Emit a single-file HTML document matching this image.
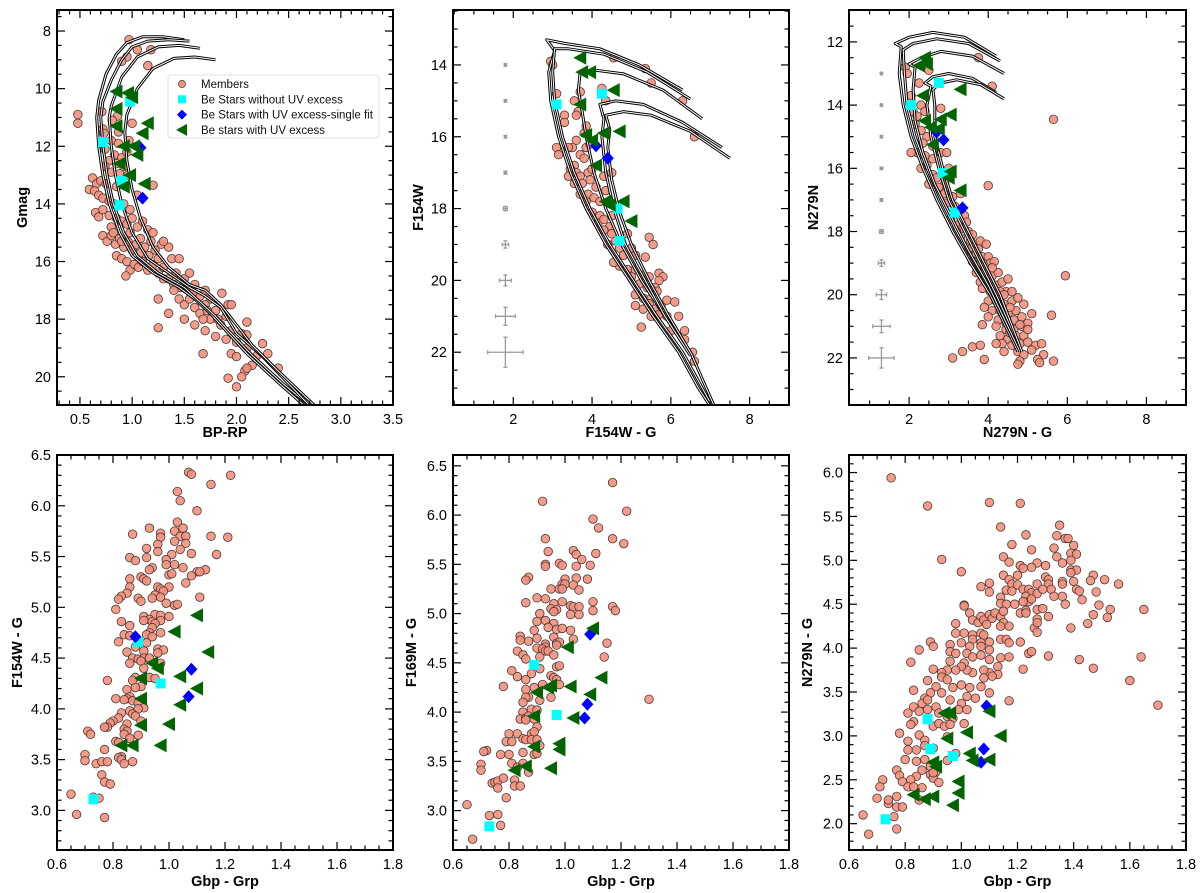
<!DOCTYPE html>
<html><head><meta charset="utf-8"><style>
body{margin:0;background:#fff;}
svg{display:block;font-family:"Liberation Sans",sans-serif;}
</style></head><body>
<svg id="fig" width="1200" height="893" viewBox="0 0 1200 893" xmlns="http://www.w3.org/2000/svg"></svg>
<script>
// ---------- Panel A: Gaia CMD ----------
const aMembers=[[0.97,8.3],[1.05,8.65],[1.18,8.65],[0.95,8.9],[0.9,9.05],[1.15,9.2],[0.48,10.9],[0.48,11.2],[0.71,10.8],[0.86,10.95],[0.81,11.1],[0.72,11.4],[0.87,11.5],[1.0,11.2],[0.73,11.55],[0.8,11.8],[0.87,11.9],[0.97,11.8],[0.74,12.1],[0.83,12.3],[0.9,12.4],[0.95,12.2],[0.78,12.5],[0.85,12.6],[0.92,12.7],[0.74,12.7],[0.8,12.9],[0.88,12.95],[0.96,13.0],[0.62,13.1],[0.66,13.3],[0.7,13.2],[0.75,13.3],[0.59,13.5],[0.64,13.55],[0.85,13.4],[1.2,13.35],[1.05,13.7],[0.68,13.7],[0.72,13.8],[0.78,13.9],[0.83,14.0],[0.92,14.0],[0.98,14.2],[0.65,14.3],[0.68,14.45],[0.72,14.2],[0.78,14.4],[0.85,14.5],[0.9,14.6],[0.95,14.7],[1.0,14.5],[1.05,14.8],[1.1,14.6],[1.15,14.9],[1.2,15.0],[0.72,15.1],[0.76,15.3],[0.8,15.1],[0.84,15.4],[0.88,15.2],[0.92,15.5],[0.96,15.3],[1.0,15.6],[1.04,15.4],[1.08,15.7],[1.12,15.5],[1.16,15.8],[1.22,15.6],[1.28,15.4],[1.35,15.5],[1.38,15.9],[0.85,15.8],[0.9,15.9],[0.95,16.0],[0.98,16.3],[1.02,16.1],[1.06,16.2],[1.1,16.0],[1.15,16.3],[1.2,16.1],[1.25,16.4],[1.3,16.2],[1.35,16.6],[1.42,16.4],[1.46,16.9],[1.5,16.6],[1.55,17.0],[1.6,16.8],[1.65,17.2],[1.7,17.0],[1.75,17.3],[1.4,16.8],[1.45,17.3],[1.5,17.5],[1.55,17.3],[1.6,17.6],[1.65,17.8],[1.7,17.5],[1.75,18.0],[1.8,17.7],[1.85,18.2],[1.9,17.9],[1.95,18.4],[1.86,17.1],[1.92,17.5],[1.6,18.2],[1.7,18.4],[1.8,18.6],[1.9,18.7],[2.0,18.8],[2.05,18.5],[1.25,17.3],[1.35,17.8],[1.5,18.0],[0.94,16.5],[1.25,18.3],[1.68,19.2],[1.95,19.2],[2.0,19.3],[2.1,19.0],[2.15,19.6],[2.2,19.25],[2.3,19.2],[2.1,18.1],[2.1,18.55],[2.25,18.85],[1.95,17.5],[2.08,19.8],[2.1,19.7],[2.4,19.7],[1.92,20.05],[2.05,20.0],[2.0,20.35],[1.3,15.3],[1.45,15.9],[1.55,16.4],[0.8,14.8],[0.82,15.0],[0.9,15.3],[0.98,15.0],[1.08,15.2],[1.18,15.3],[1.25,15.9],[1.3,16.6],[1.4,17.0],[1.58,17.1],[1.72,17.7],[1.82,18.0],[1.68,18.0]];
const aCyan=[[0.98,10.45],[0.72,11.85],[0.9,13.2],[0.88,14.05]];
const aBlue=[[1.08,12.05],[1.1,13.8]];
const aGreen=[[0.85,10.1],[0.96,10.15],[1.0,10.3],[0.85,10.7],[1.15,11.2],[1.1,11.55],[0.85,11.3],[0.92,12.0],[1.02,12.0],[1.05,12.3],[0.88,12.6],[0.98,13.0],[1.12,13.3],[0.92,13.4]];
const aIso1=[[1.5,8.3],[1.3,8.2],[1.1,8.2],[0.95,8.4],[0.85,8.8],[0.75,9.5],[0.68,10.4],[0.66,11],[0.68,12],[0.72,13],[0.78,14],[0.88,15],[1.0,15.8],[1.2,16.4],[1.45,16.9],[1.6,17.3],[1.75,17.8],[1.9,18.4],[2.1,19.2],[2.4,20.2],[2.65,21]];
const aIso2=[[1.55,8.35],[1.35,8.3],[1.15,8.35],[1.0,8.55],[0.9,9.0],[0.8,9.7],[0.72,10.45],[0.7,11],[0.72,12],[0.76,13],[0.82,14],[0.92,15],[1.05,15.8],[1.25,16.4],[1.5,16.9],[1.65,17.4],[1.8,17.9],[1.95,18.5],[2.15,19.25],[2.45,20.25],[2.7,21]];
const aIso3=[[1.65,8.6],[1.45,8.5],[1.25,8.55],[1.05,8.9],[0.9,9.6],[0.8,10.6],[0.78,11],[0.8,12],[0.84,13],[0.9,14],[1.0,15],[1.15,15.9],[1.35,16.4],[1.55,16.9],[1.7,17.2],[1.85,17.6],[2.0,18.5],[2.25,19.3],[2.7,21]];
const aIso4=[[1.8,9.0],[1.6,8.9],[1.4,8.95],[1.2,9.3],[1.05,10.0],[0.95,10.9],[0.93,11.5],[0.95,12.5],[1.0,13.5],[1.08,14.5],[1.2,15.5],[1.35,16.2],[1.55,16.8],[1.7,17.0],[1.85,17.5],[2.0,18.2],[2.15,18.9],[2.4,19.8],[2.75,21]];
const aXTicks=[0.5,1.0,1.5,2.0,2.5,3.0,3.5];
const aYTicks=[8,10,12,14,16,18,20];

// ---------- Panel B: F154W CMD ----------
const bMembers=[[2.95,13.9],[3.0,14.0],[4.55,13.8],[5.35,14.1],[5.5,14.5],[6.3,15.0],[6.6,16.0],[3.1,14.8],[3.55,15.0],[3.65,15.3],[4.25,14.65],[4.35,15.0],[3.7,14.75],[3.3,15.4],[3.3,15.6],[3.6,15.4],[3.85,15.7],[3.6,16.1],[3.5,16.3],[3.1,16.3],[3.15,16.5],[3.7,16.5],[3.85,16.3],[3.95,16.2],[3.8,16.6],[3.55,16.8],[3.45,16.9],[3.6,17.0],[3.4,17.1],[3.7,17.1],[3.9,17.0],[4.0,16.9],[4.3,17.1],[4.5,17.0],[3.55,17.3],[3.75,17.3],[3.95,17.2],[4.1,17.4],[3.7,17.6],[3.9,17.6],[3.85,17.8],[4.05,17.7],[4.2,17.8],[4.35,17.5],[4.0,18.1],[4.2,18.2],[4.15,18.4],[4.3,18.3],[4.5,18.2],[4.45,18.5],[4.3,18.6],[4.5,18.7],[4.6,18.9],[4.4,19.0],[4.7,19.1],[4.9,18.7],[5.0,19.1],[5.1,19.3],[5.45,18.8],[5.55,19.0],[5.35,19.35],[4.7,19.6],[4.9,19.7],[5.1,19.7],[5.0,19.9],[5.3,19.85],[5.45,19.9],[5.7,19.8],[5.8,19.9],[5.7,20.0],[5.2,20.1],[5.4,20.2],[5.6,20.2],[5.65,20.3],[5.1,20.4],[5.3,20.5],[5.5,20.5],[5.1,20.7],[5.3,20.8],[5.45,20.65],[5.6,20.8],[5.75,20.7],[5.8,20.9],[5.6,21.0],[5.9,20.55],[6.1,20.6],[5.5,21.0],[5.9,21.0],[6.2,21.0],[5.25,21.3],[6.0,21.4],[6.35,21.4],[6.35,21.65],[6.55,22.0],[6.6,22.25],[5.7,20.95],[4.8,19.3],[4.55,19.5],[3.8,15.9],[3.4,16.3]];
const bCyan=[[3.1,15.1],[4.25,14.8],[4.65,18.0],[4.7,18.9]];
const bBlue=[[4.1,16.25],[4.4,16.6]];
const bGreen=[[3.7,13.8],[3.75,14.2],[3.95,14.2],[4.55,14.7],[3.7,15.1],[3.85,15.95],[4.0,16.1],[4.3,15.9],[4.7,15.85],[4.1,16.8],[4.35,17.8],[4.45,17.9],[4.8,17.8],[5.0,18.35]];
const bIso1=[[6.3,14.7],[5.2,14.0],[4.2,13.55],[3.3,13.4],[2.85,13.3],[3.05,13.6],[2.9,14.2],[2.95,15],[3.15,16],[3.45,17],[3.85,18],[4.35,19],[4.95,20],[5.55,21],[6.2,22],[6.7,23],[7.0,23.5]];
const bIso2=[[6.5,14.95],[5.4,14.2],[4.3,13.7],[3.4,13.55],[3.05,13.55],[3.0,14.2],[3.05,15],[3.25,16],[3.55,17],[3.95,18],[4.45,19],[5.05,20],[5.65,21],[6.3,22],[7.05,23.5]];
const bIso3=[[6.8,15.5],[5.8,14.7],[4.8,14.25],[4.1,14.15],[3.7,14.2],[3.65,14.7],[3.75,15.3],[3.85,16],[4.05,17],[4.35,18],[4.75,19],[5.25,20],[5.85,21],[6.5,22],[7.1,23.5]];
const bIso4=[[7.3,16.3],[6.3,15.6],[5.3,15.1],[4.6,15.0],[4.2,15.1],[4.3,15.5],[4.25,16],[4.35,17],[4.55,18],[4.85,19],[5.35,20],[5.85,21],[6.5,22.1]];
const bIso5=[[7.5,16.6],[6.5,15.85],[5.5,15.4],[4.8,15.3],[4.35,15.4],[4.45,15.8],[4.4,16.3],[4.5,17.2],[4.7,18.1],[5.0,19],[5.45,20],[5.95,21],[6.55,22.1]];
const bErrY=[14,15,16,17,18,19,20,21,22];
const bErrX=[0.02,0.02,0.02,0.03,0.05,0.08,0.15,0.25,0.45];
const bErrV=[0.03,0.03,0.03,0.04,0.06,0.1,0.15,0.25,0.42];
const bXTicks=[2,4,6,8];
const bYTicks=[14,16,18,20,22];

// ---------- Panel C: N279N CMD ----------
const cMembers=[[1.9,12.8],[1.95,13.0],[2.25,13.3],[2.5,12.9],[3.75,12.5],[4.1,13.4],[5.65,14.45],[2.8,14.1],[2.05,13.7],[2.1,14.2],[2.2,14.35],[2.3,14.0],[2.4,14.2],[2.15,14.6],[2.3,14.8],[2.45,15.0],[2.35,15.2],[2.6,15.3],[2.2,15.5],[2.05,15.5],[2.4,15.6],[2.6,15.7],[2.8,15.5],[2.95,15.5],[2.45,15.9],[2.3,16.0],[2.6,16.2],[2.7,16.3],[2.5,16.5],[2.9,16.5],[3.0,16.0],[2.75,16.6],[2.9,16.8],[3.1,16.9],[3.3,16.8],[4.0,16.55],[2.95,17.1],[3.15,17.2],[3.25,17.4],[3.4,17.5],[3.05,17.6],[3.2,17.8],[3.45,17.7],[3.35,17.9],[3.5,18.0],[3.6,18.1],[3.3,18.2],[3.55,18.3],[3.7,18.4],[3.8,18.3],[3.95,18.4],[3.5,18.6],[3.7,18.7],[3.85,18.8],[4.0,18.8],[3.6,18.95],[3.8,19.05],[4.05,19.0],[4.15,18.95],[3.7,19.3],[3.9,19.3],[4.1,19.4],[4.25,19.3],[3.8,19.6],[4.0,19.6],[4.2,19.7],[4.35,19.6],[4.5,19.5],[3.85,19.8],[4.05,19.9],[4.25,20.0],[4.45,19.9],[4.6,19.9],[4.0,20.2],[4.2,20.2],[4.4,20.3],[4.6,20.2],[4.75,20.1],[3.9,20.4],[4.1,20.5],[4.3,20.5],[4.5,20.6],[4.7,20.5],[4.9,20.3],[4.0,20.7],[4.25,20.8],[4.45,20.9],[4.65,20.8],[4.85,20.7],[5.1,20.6],[5.6,20.65],[4.2,21.0],[4.45,21.1],[4.65,21.1],[4.85,21.0],[5.0,20.9],[3.85,20.95],[4.3,21.3],[4.5,21.4],[4.7,21.3],[4.9,21.3],[5.0,21.1],[4.35,21.55],[4.6,21.6],[4.8,21.55],[5.0,21.5],[5.2,21.6],[5.35,21.55],[4.4,21.8],[4.75,21.8],[4.9,21.9],[5.1,21.75],[5.4,21.9],[4.8,22.1],[4.75,22.2],[5.25,22.05],[5.3,22.15],[5.65,22.1],[3.1,22.0],[3.35,21.8],[3.6,21.65],[3.8,21.6],[3.9,22.05],[5.95,19.4],[4.2,21.55],[3.2,18.0],[3.6,18.5],[3.9,19.1],[4.3,19.9],[4.55,20.4],[4.8,20.95],[4.55,21.2],[4.4,20.0],[4.1,19.15],[3.75,18.55]];
const cCyan=[[2.05,14.0],[2.75,13.3],[2.85,16.15],[3.15,17.4]];
const cBlue=[[2.7,14.85],[2.87,15.1],[3.35,17.25]];
const cGreen=[[2.4,12.5],[2.25,12.75],[2.45,12.7],[2.35,13.7],[3.3,13.5],[2.4,14.5],[2.8,14.45],[3.05,14.3],[2.55,14.7],[2.75,14.75],[2.6,15.25],[3.05,16.1],[3.0,16.3],[3.3,16.7]];
const cIso1=[[4.2,12.45],[3.4,11.85],[2.6,11.7],[2.0,11.85],[1.65,12.05],[1.8,12.15],[1.75,13],[1.85,14],[2.05,15],[2.35,16],[2.7,17],[3.1,18],[3.55,19],[4.05,20],[4.75,21.8]];
const cIso2=[[4.3,12.6],[3.5,12.05],[2.7,11.9],[2.1,12.05],[1.85,12.25],[1.88,13],[1.95,14],[2.15,15],[2.45,16],[2.8,17],[3.2,18],[3.65,19],[4.1,20],[4.8,21.8]];
const cIso3=[[4.4,13.0],[3.6,12.45],[2.8,12.3],[2.3,12.5],[2.0,12.7],[2.15,12.8],[2.1,13.5],[2.15,14.5],[2.35,15.5],[2.65,16.5],[3.05,17.5],[3.5,18.6],[4.0,19.7],[4.8,21.8]];
const cIso4=[[4.2,13.6],[3.6,13.15],[3.0,13.0],[2.6,13.1],[2.4,13.3],[2.55,13.4],[2.45,14],[2.55,15],[2.75,16],[3.0,17],[3.4,18],[3.8,19],[4.2,20],[4.85,21.8]];
const cIso5=[[4.4,13.8],[3.8,13.35],[3.2,13.2],[2.8,13.3],[2.6,13.5],[2.65,14],[2.65,15],[2.85,16],[3.1,17],[3.5,18],[3.9,19],[4.3,20],[4.85,21.8]];
const cErrY=[13,14,15,16,17,18,19,20,21,22];
const cErrX=[0.02,0.02,0.02,0.03,0.03,0.05,0.08,0.13,0.22,0.32];
const cErrV=[0.03,0.03,0.03,0.03,0.04,0.06,0.1,0.15,0.2,0.32];
const cXTicks=[2,4,6,8];
const cYTicks=[12,14,16,18,20,22];

// ---------- Panel D ----------
const dMembers=[[1.07,6.33],[1.08,6.31],[1.22,6.3],[1.15,6.21],[1.03,6.14],[1.04,6.05],[1.1,5.95],[1.03,5.84],[0.93,5.78],[0.97,5.73],[1.02,5.75],[1.05,5.78],[0.87,5.72],[0.97,5.69],[1.04,5.7],[1.06,5.7],[1.15,5.7],[1.21,5.69],[1.02,5.65],[1.06,5.63],[0.96,5.62],[0.92,5.58],[1.04,5.57],[0.96,5.55],[1.08,5.53],[1.17,5.52],[1.01,5.52],[0.86,5.49],[0.92,5.49],[0.88,5.46],[0.99,5.47],[1.02,5.42],[0.99,5.42],[1.05,5.39],[0.94,5.39],[0.93,5.37],[1.13,5.37],[1.1,5.35],[1.11,5.35],[1.08,5.31],[1.0,5.32],[1.01,5.33],[0.9,5.3],[0.91,5.28],[0.92,5.26],[0.86,5.28],[1.06,5.24],[0.86,5.2],[0.96,5.2],[1.0,5.2],[0.97,5.18],[0.98,5.16],[0.95,5.12],[0.97,5.1],[0.85,5.14],[0.83,5.11],[0.82,5.08],[0.94,5.09],[0.89,5.09],[0.9,5.06],[1.11,5.1],[0.99,5.04],[1.02,5.02],[1.03,5.03],[0.81,4.98],[0.95,4.93],[0.91,4.91],[0.93,4.88],[0.97,4.92],[1.0,4.91],[0.97,4.87],[0.91,4.87],[0.94,4.86],[0.95,4.84],[0.83,4.86],[0.86,4.82],[0.94,4.8],[0.93,4.75],[0.97,4.75],[0.84,4.73],[0.86,4.72],[0.92,4.73],[0.94,4.71],[0.82,4.66],[0.92,4.65],[0.88,4.61],[0.96,4.59],[0.98,4.58],[0.96,4.55],[0.85,4.56],[0.91,4.57],[0.87,4.5],[0.89,4.49],[0.91,4.5],[0.93,4.5],[0.97,4.45],[0.86,4.45],[0.9,4.47],[0.91,4.4],[0.93,4.31],[0.95,4.3],[0.88,4.31],[0.87,4.28],[0.78,4.28],[0.9,4.22],[0.85,4.19],[0.88,4.21],[0.86,4.12],[0.85,4.1],[0.84,4.09],[0.81,4.1],[0.87,4.08],[0.89,4.06],[0.91,4.01],[0.89,4.0],[0.86,3.98],[0.87,3.95],[0.88,3.93],[0.83,3.96],[0.82,3.91],[0.8,3.88],[0.79,3.86],[0.78,3.82],[0.77,3.82],[0.85,3.85],[0.84,3.8],[0.85,3.78],[0.84,3.75],[0.89,3.74],[0.86,3.71],[0.9,3.88],[0.71,3.78],[0.72,3.75],[0.81,3.68],[0.82,3.67],[0.77,3.6],[0.7,3.55],[0.7,3.49],[0.74,3.46],[0.76,3.48],[0.78,3.48],[0.83,3.53],[0.82,3.52],[0.83,3.5],[0.84,3.46],[0.87,3.48],[0.76,3.35],[0.77,3.28],[0.79,3.26],[0.65,3.16],[0.73,3.13],[0.75,3.12],[0.67,2.96],[0.77,2.93]];
const dCyan=[[0.89,4.66],[0.97,4.25],[0.73,3.11]];
const dBlue=[[0.88,4.71],[1.08,4.39],[1.07,4.12]];
const dGreen=[[1.1,4.92],[1.02,4.76],[1.14,4.56],[0.94,4.45],[0.96,4.4],[0.9,4.3],[1.04,4.32],[1.1,4.2],[0.9,4.1],[1.04,4.04],[0.9,3.84],[1.0,3.85],[0.83,3.64],[0.87,3.64],[0.97,3.64]];
const dYTicks=[3.0,3.5,4.0,4.5,5.0,5.5,6.0,6.5];

// ---------- Panel E ----------
const eMembers=[[1.17,6.33],[1.22,6.04],[0.92,6.14],[1.1,5.96],[1.12,5.87],[0.93,5.76],[1.17,5.76],[1.21,5.71],[0.94,5.63],[1.03,5.64],[1.04,5.6],[1.11,5.61],[1.06,5.55],[0.93,5.5],[0.93,5.48],[0.98,5.51],[0.99,5.49],[1.04,5.48],[1.09,5.49],[0.87,5.37],[0.86,5.34],[1.0,5.35],[1.04,5.36],[1.08,5.35],[0.99,5.3],[1.0,5.3],[1.03,5.29],[0.95,5.25],[0.98,5.25],[0.99,5.25],[1.05,5.24],[0.9,5.16],[0.93,5.15],[0.86,5.11],[0.96,5.1],[0.99,5.12],[1.1,5.12],[1.02,5.08],[1.03,5.07],[1.05,5.07],[0.95,5.05],[0.97,5.04],[0.96,5.02],[1.1,5.03],[1.17,5.07],[1.18,5.03],[0.91,5.0],[1.02,4.99],[1.05,4.99],[0.9,4.92],[0.93,4.93],[0.96,4.9],[0.94,4.86],[0.97,4.84],[0.99,4.85],[1.02,4.83],[0.89,4.83],[0.84,4.77],[0.84,4.73],[0.87,4.72],[0.9,4.75],[0.96,4.76],[1.03,4.74],[0.97,4.7],[0.98,4.71],[0.93,4.69],[0.93,4.66],[0.9,4.65],[0.92,4.64],[0.93,4.62],[0.94,4.62],[0.97,4.68],[1.15,4.7],[0.83,4.62],[0.85,4.58],[0.86,4.54],[0.96,4.58],[0.91,4.56],[1.14,4.56],[0.81,4.42],[0.83,4.36],[0.86,4.33],[0.88,4.39],[0.91,4.44],[0.97,4.46],[0.98,4.47],[0.95,4.37],[0.96,4.35],[0.97,4.33],[0.98,4.28],[0.92,4.28],[0.78,4.26],[0.86,4.23],[0.89,4.25],[0.95,4.15],[0.87,4.15],[0.86,4.15],[0.91,4.12],[0.85,4.1],[1.3,4.13],[0.88,4.03],[0.9,4.02],[0.85,4.0],[0.84,3.93],[0.86,3.94],[0.87,3.96],[0.86,3.92],[0.89,3.93],[0.9,3.85],[0.8,3.78],[0.83,3.78],[0.88,3.78],[0.89,3.8],[0.79,3.7],[0.81,3.7],[0.85,3.73],[0.86,3.72],[0.88,3.72],[0.9,3.72],[0.91,3.66],[0.72,3.61],[0.71,3.6],[0.77,3.57],[0.8,3.57],[0.85,3.59],[0.89,3.57],[0.9,3.58],[0.7,3.47],[0.7,3.41],[0.81,3.48],[0.83,3.44],[0.85,3.48],[0.87,3.39],[0.74,3.28],[0.75,3.29],[0.76,3.3],[0.76,3.23],[0.78,3.33],[0.82,3.31],[0.82,3.25],[0.84,3.25],[0.79,3.13],[0.65,3.06],[0.73,2.95],[0.76,2.96],[0.77,2.85],[0.67,2.71]];
const eCyan=[[0.89,4.48],[0.97,3.97],[0.73,2.84]];
const eBlue=[[1.09,4.79],[1.08,4.08],[1.07,3.94]];
const eGreen=[[1.1,4.85],[1.01,4.66],[1.13,4.35],[0.9,4.2],[0.94,4.25],[0.95,4.27],[1.02,4.26],[1.09,4.18],[0.89,3.96],[1.03,3.94],[0.89,3.65],[0.98,3.68],[0.98,3.62],[0.82,3.41],[0.86,3.45],[0.95,3.43]];
const eYTicks=[3.0,3.5,4.0,4.5,5.0,5.5,6.0,6.5];

// ---------- Panel F ----------
const fMembers=[[0.75,5.94],[0.88,5.62],[1.1,5.66],[1.21,5.65],[1.14,5.38],[1.35,5.4],[0.93,5.01],[1.0,4.87],[1.23,5.29],[1.34,5.28],[1.37,5.25],[1.38,5.25],[1.18,5.18],[1.4,5.17],[1.25,5.12],[1.33,5.14],[1.15,5.04],[1.34,5.04],[1.39,5.08],[1.41,5.07],[1.17,4.98],[1.39,5.0],[1.27,4.97],[1.21,4.94],[1.3,4.94],[1.22,4.91],[1.25,4.92],[1.36,4.97],[1.39,4.89],[1.41,4.89],[1.39,4.86],[1.47,4.83],[1.51,4.78],[1.46,4.77],[1.56,4.73],[1.4,4.76],[1.36,4.76],[1.15,4.83],[1.17,4.78],[1.2,4.83],[1.3,4.81],[1.31,4.78],[1.36,4.73],[1.27,4.73],[1.31,4.73],[1.18,4.73],[1.1,4.64],[1.14,4.58],[1.16,4.66],[1.18,4.65],[1.2,4.72],[1.22,4.67],[1.24,4.67],[1.25,4.63],[1.27,4.62],[1.29,4.67],[1.32,4.67],[1.33,4.59],[1.36,4.59],[1.41,4.67],[1.42,4.65],[1.48,4.64],[1.43,4.55],[1.07,4.7],[1.1,4.74],[1.14,4.51],[1.16,4.5],[1.19,4.5],[1.21,4.4],[1.23,4.59],[1.24,4.53],[1.22,4.53],[1.25,4.56],[1.27,4.44],[1.29,4.45],[1.23,4.43],[1.23,4.4],[1.37,4.5],[1.49,4.49],[1.53,4.44],[1.52,4.35],[1.47,4.38],[1.45,4.28],[1.65,4.44],[1.39,4.23],[1.26,4.23],[1.27,4.18],[1.27,4.33],[1.27,4.29],[1.31,4.36],[0.98,4.28],[1.01,4.49],[1.01,4.48],[1.03,4.4],[1.04,4.32],[1.06,4.29],[1.07,4.36],[1.08,4.32],[1.1,4.38],[1.11,4.34],[1.12,4.4],[1.14,4.36],[1.15,4.42],[1.15,4.29],[1.14,4.25],[1.17,4.25],[1.09,4.27],[1.07,4.17],[1.08,4.15],[1.04,4.15],[1.01,4.17],[0.98,4.17],[1.04,4.1],[1.07,4.06],[1.1,4.07],[1.14,4.1],[1.16,4.1],[1.17,4.06],[1.21,4.07],[1.24,3.94],[1.25,3.96],[1.31,3.91],[1.42,3.87],[1.47,3.77],[1.64,3.9],[1.6,3.63],[1.7,3.35],[1.17,3.4],[1.22,3.76],[1.14,3.89],[1.17,3.9],[1.1,3.98],[1.07,4.02],[1.03,4.02],[1.0,4.06],[0.96,4.04],[0.89,4.07],[0.9,4.02],[0.85,3.98],[0.82,3.84],[0.96,3.96],[0.98,3.94],[1.02,3.94],[1.04,3.9],[1.07,3.92],[1.1,3.87],[1.13,3.79],[1.13,3.7],[1.1,3.72],[1.11,3.68],[1.08,3.75],[1.08,3.66],[1.04,3.72],[1.02,3.75],[1.01,3.83],[1.0,3.79],[0.98,3.75],[0.96,3.85],[0.95,3.75],[0.93,3.72],[0.9,3.76],[0.93,3.67],[0.95,3.64],[0.97,3.55],[1.0,3.58],[1.03,3.55],[1.07,3.56],[1.1,3.49],[1.05,3.43],[1.02,3.45],[1.0,3.37],[0.96,3.41],[0.93,3.49],[0.91,3.56],[0.89,3.49],[0.88,3.63],[0.83,3.52],[0.87,3.43],[0.86,3.37],[0.88,3.41],[0.83,3.33],[0.85,3.28],[0.88,3.3],[0.91,3.33],[0.92,3.26],[0.95,3.22],[0.97,3.2],[0.99,3.3],[1.02,3.3],[0.81,3.26],[0.83,3.16],[0.82,3.13],[0.78,3.03],[0.81,2.94],[0.85,3.01],[0.87,2.95],[0.9,3.11],[0.92,3.14],[0.94,3.11],[0.96,3.13],[0.95,2.99],[1.01,3.14],[0.98,2.8],[0.95,2.72],[0.9,2.86],[0.87,2.89],[0.84,2.84],[0.81,2.84],[0.8,2.73],[0.84,2.71],[0.87,2.73],[0.89,2.65],[0.86,2.61],[0.84,2.54],[0.82,2.5],[0.77,2.61],[0.78,2.55],[0.79,2.48],[0.81,2.42],[0.83,2.42],[0.86,2.41],[0.89,2.56],[0.9,2.52],[0.91,2.59],[0.72,2.5],[0.71,2.42],[0.7,2.29],[0.74,2.23],[0.74,2.27],[0.77,2.31],[0.77,2.19],[0.79,2.19],[0.76,2.08],[0.77,1.94],[0.65,2.1],[0.67,1.88],[0.85,2.27],[0.9,2.58],[0.92,2.47]];
const fCyan=[[0.88,3.19],[0.89,2.85],[0.97,2.77],[0.73,2.05]];
const fBlue=[[1.09,3.34],[1.08,2.85],[1.07,2.7]];
const fGreen=[[0.94,3.26],[0.96,3.26],[1.1,3.28],[1.02,3.04],[1.14,3.0],[0.95,2.97],[1.03,2.8],[1.04,2.72],[1.1,2.73],[0.9,2.7],[0.91,2.65],[0.99,2.48],[0.99,2.35],[0.83,2.33],[0.87,2.28],[0.9,2.31],[0.97,2.21]];
const fYTicks=[2.0,2.5,3.0,3.5,4.0,4.5,5.0,5.5,6.0];
const gbpXTicks=[0.6,0.8,1.0,1.2,1.4,1.6,1.8];

const NS='http://www.w3.org/2000/svg';
const svg=document.getElementById('fig');
function mk(tag,attrs,parent){const e=document.createElementNS(NS,tag);for(const k in attrs)e.setAttribute(k,attrs[k]);(parent||svg).appendChild(e);return e;}

function makePanel(cfg){
  const g=mk('g',{});
  
  
  const L=cfg.box[0],T=cfg.box[1],R=cfg.box[2],B=cfg.box[3];
  const sx=v=>L+(v-cfg.xd[0])/(cfg.xd[1]-cfg.xd[0])*(R-L);
  const sy=cfg.yInv?(v=>T+(v-cfg.yd[0])/(cfg.yd[1]-cfg.yd[0])*(B-T)):(v=>B-(v-cfg.yd[0])/(cfg.yd[1]-cfg.yd[0])*(B-T));
  const clipId='clip-'+cfg.name;
  const cp=mk('clipPath',{id:clipId},g);mk('rect',{x:L,y:T,width:R-L,height:B-T},cp);
  const plot=mk('g',{'clip-path':'url(#'+clipId+')'},g);
  if(cfg.err){
    const eg=mk('g',{stroke:'#9a9a9a','stroke-width':1.3,fill:'none'},plot);
    
    
    cfg.err.y.forEach((yv,i)=>{
      const cx=sx(cfg.err.x),cy=sy(yv),dx=sx(cfg.err.x+cfg.err.xe[i])-cx,dy=Math.abs(sy(yv+cfg.err.ye[i])-cy);
      mk('line',{x1:cx-dx,x2:cx+dx,y1:cy,y2:cy},eg);mk('line',{x1:cx,x2:cx,y1:cy-dy,y2:cy+dy},eg);
      mk('line',{x1:cx-dx,x2:cx-dx,y1:cy-2,y2:cy+2},eg);mk('line',{x1:cx+dx,x2:cx+dx,y1:cy-2,y2:cy+2},eg);
      mk('line',{x1:cx-2,x2:cx+2,y1:cy-dy,y2:cy-dy},eg);mk('line',{x1:cx-2,x2:cx+2,y1:cy+dy,y2:cy+dy},eg);
    });
  }
  const mg=mk('g',{fill:'#f4907c',stroke:'#4a3a38','stroke-width':0.8,'fill-opacity':0.9},plot);
  
  
  cfg.members.forEach(p=>{mk('circle',{cx:sx(p[0]),cy:sy(p[1]),r:4.3},mg);});
  if(cfg.isos){
    cfg.isos.forEach((iso,i)=>{
      const d='M'+iso.map(p=>sx(p[0]).toFixed(1)+','+sy(p[1]).toFixed(1)).join(' L');
      const ig=mk('g',{fill:'none','stroke-linejoin':'round'},plot);
      
      
      mk('path',{d:d,stroke:'#000','stroke-width':3.0},ig);
      mk('path',{d:d,stroke:'#fff','stroke-width':1.0},ig);
    });
  }
  const cg=mk('g',{fill:'#00ffff'},plot);
  
  
  cfg.cyan.forEach(p=>{mk('rect',{x:sx(p[0])-5,y:sy(p[1])-5,width:10,height:10},cg);});
  const bg=mk('g',{fill:'#0000ff'},plot);
  
  
  cfg.blue.forEach(p=>{const x=sx(p[0]),y=sy(p[1]);mk('polygon',{points:`${x},${y-6.5} ${x+6},${y} ${x},${y+6.5} ${x-6},${y}`},bg);});
  const gg=mk('g',{fill:'#006400'},plot);
  
  
  cfg.green.forEach(p=>{const x=sx(p[0]),y=sy(p[1]);mk('polygon',{points:`${x-7},${y} ${x+6},${y-7} ${x+6},${y+7}`},gg);});
  const fr=mk('rect',{x:L,y:T,width:R-L,height:B-T,fill:'none',stroke:'#000','stroke-width':2},g);
  
  
  const tg=mk('g',{stroke:'#000','stroke-width':1.2},g);
  
  
  for(let v=Math.ceil(cfg.xd[0]/cfg.xMinor-1e-6)*cfg.xMinor;v<=cfg.xd[1]+1e-9;v+=cfg.xMinor){
    const x=sx(v);if(x<L+1||x>R-1)continue;
    const maj=cfg.xTicks.some(t=>Math.abs(t-v)<1e-6);const len=maj?8:4.5;
    mk('line',{x1:x,x2:x,y1:B,y2:B-len},tg);mk('line',{x1:x,x2:x,y1:T,y2:T+len},tg);
  }
  const ylo=Math.min(cfg.yd[0],cfg.yd[1]),yhi=Math.max(cfg.yd[0],cfg.yd[1]);
  for(let v=Math.ceil(ylo/cfg.yMinor-1e-6)*cfg.yMinor;v<=yhi+1e-9;v+=cfg.yMinor){
    const y=sy(v);if(y<T+1||y>B-1)continue;
    const maj=cfg.yTicks.some(t=>Math.abs(t-v)<1e-6);const len=maj?8:4.5;
    mk('line',{x1:L,x2:L+len,y1:y,y2:y},tg);mk('line',{x1:R,x2:R-len,y1:y,y2:y},tg);
  }
  cfg.xTicks.forEach(v=>{const t=mk('text',{x:sx(v),y:B+19,'text-anchor':'middle','font-size':14.5,fill:'#000'},g);t.textContent=cfg.xFmt(v);
    
    });
  cfg.yTicks.forEach(v=>{const t=mk('text',{x:L-6,y:sy(v)+5,'text-anchor':'end','font-size':14.5,fill:'#000'},g);t.textContent=cfg.yFmt(v);
    
    });
  const xl=mk('text',{x:(L+R)/2,y:cfg.xLabY,'text-anchor':'middle','font-size':14.5,'font-weight':'bold'},g);xl.textContent=cfg.xLabel;
  
  
  const yx=cfg.yLabX,yy=(T+B)/2;
  const yl=mk('text',{x:yx,y:yy,'text-anchor':'middle','font-size':14.5,'font-weight':'bold',transform:`rotate(-90 ${yx} ${yy})`},g);yl.textContent=cfg.yLabel;
  
  
  return {sx,sy,g};
}
const f0=v=>String(v);const f1=v=>v.toFixed(1);
makePanel({name:'panel-gaia-cmd',box:[57,10,393,405],xd:[0.28,3.5],yd:[7.27,20.98],yInv:true,members:aMembers,cyan:aCyan,blue:aBlue,green:aGreen,isos:[aIso1,aIso2,aIso3,aIso4],xTicks:aXTicks,yTicks:aYTicks,xMinor:0.1,yMinor:0.5,xFmt:f1,yFmt:f0,xLabel:'BP-RP',yLabel:'Gmag',xLabY:437,yLabX:27});
makePanel({name:'panel-f154w-cmd',box:[453,10,789,405],xd:[0.47,9.0],yd:[12.47,23.47],yInv:true,members:bMembers,cyan:bCyan,blue:bBlue,green:bGreen,isos:[bIso1,bIso2,bIso3,bIso4,bIso5],err:{x:1.8,y:bErrY,xe:bErrX,ye:bErrV},xTicks:bXTicks,yTicks:bYTicks,xMinor:0.5,yMinor:0.5,xFmt:f0,yFmt:f0,xLabel:'F154W - G',yLabel:'F154W',xLabY:437,yLabX:423});
makePanel({name:'panel-n279n-cmd',box:[849,10,1186,405],xd:[0.48,9.0],yd:[10.99,23.49],yInv:true,members:cMembers,cyan:cCyan,blue:cBlue,green:cGreen,isos:[cIso1,cIso2,cIso3,cIso4,cIso5],err:{x:1.3,y:cErrY,xe:cErrX,ye:cErrV},xTicks:cXTicks,yTicks:cYTicks,xMinor:0.5,yMinor:0.5,xFmt:f0,yFmt:f0,xLabel:'N279N - G',yLabel:'N279N',xLabY:437,yLabX:818});
makePanel({name:'panel-f154w-color',box:[57,455,393,850],xd:[0.6,1.8],yd:[2.61,6.5],members:dMembers,cyan:dCyan,blue:dBlue,green:dGreen,xTicks:gbpXTicks,yTicks:dYTicks,xMinor:0.05,yMinor:0.1,xFmt:f1,yFmt:f1,xLabel:'Gbp - Grp',yLabel:'F154W - G',xLabY:886,yLabX:22});
makePanel({name:'panel-f169m-color',box:[453,455,789,850],xd:[0.6,1.8],yd:[2.6,6.61],members:eMembers,cyan:eCyan,blue:eBlue,green:eGreen,xTicks:gbpXTicks,yTicks:eYTicks,xMinor:0.05,yMinor:0.1,xFmt:f1,yFmt:f1,xLabel:'Gbp - Grp',yLabel:'F169M - G',xLabY:886,yLabX:416});
makePanel({name:'panel-n279n-color',box:[849,455,1186,850],xd:[0.6,1.8],yd:[1.7,6.2],members:fMembers,cyan:fCyan,blue:fBlue,green:fGreen,xTicks:gbpXTicks,yTicks:fYTicks,xMinor:0.05,yMinor:0.1,xFmt:f1,yFmt:f1,xLabel:'Gbp - Grp',yLabel:'N279N - G',xLabY:886,yLabX:812});

const lg=mk('g',{});


mk('rect',{x:168,y:75,width:211,height:63,rx:3,fill:'#fff','fill-opacity':0.85,stroke:'#e0e0e0'},lg);
const legItems=['Members','Be Stars without UV excess','Be Stars with UV excess-single fit','Be stars with UV excess'];
legItems.forEach((txt,i)=>{
  const y=84+i*15.3,x=182;
  let m;
  if(i===0)m=mk('circle',{cx:x,cy:y,r:3.6,fill:'#f4907c',stroke:'#4a3a38','stroke-width':0.7},lg);
  if(i===1)m=mk('rect',{x:x-4,y:y-4,width:8,height:8,fill:'#00ffff'},lg);
  if(i===2)m=mk('polygon',{points:`${x},${y-5} ${x+5},${y} ${x},${y+5} ${x-5},${y}`,fill:'#0000ff'},lg);
  if(i===3)m=mk('polygon',{points:`${x-6},${y} ${x+5},${y-6} ${x+5},${y+6}`,fill:'#006400'},lg);
  
  
  const t=mk('text',{x:201,y:y+4,'font-size':11.5,fill:'#111'},lg);t.textContent=txt;
  
  
});
</script>
</body></html>
